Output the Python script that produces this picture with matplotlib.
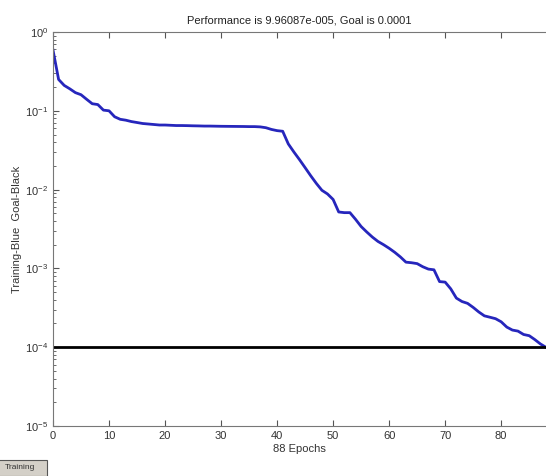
import matplotlib
matplotlib.use('Agg')
import matplotlib.pyplot as plt
from matplotlib.patches import Rectangle

plt.rcParams['font.family'] = ['Liberation Sans', 'DejaVu Sans']

# training performance per epoch
epochs = list(range(89))
perf = [0.59, 0.25, 0.21, 0.19, 0.17, 0.16, 0.14, 0.123, 0.12, 0.102,
        0.1, 0.084, 0.078, 0.076, 0.073, 0.071, 0.069, 0.068, 0.067, 0.066,
        0.066, 0.0655, 0.065, 0.065, 0.0648, 0.0645, 0.0643, 0.064, 0.064, 0.0638,
        0.0636, 0.0635, 0.0634, 0.0633, 0.0632, 0.063, 0.063, 0.0625, 0.061, 0.058,
        0.056, 0.055, 0.038, 0.030, 0.024, 0.019, 0.015, 0.012, 0.0098, 0.0088,
        0.0075, 0.0052, 0.0051, 0.0051, 0.0042, 0.0034, 0.0029, 0.0025, 0.0022, 0.002,
        0.0018, 0.0016, 0.0014, 0.0012, 0.00118, 0.00115, 0.00105, 0.00098, 0.00096, 0.00068,
        0.00067, 0.00055, 0.00042, 0.00038, 0.00036, 0.00032, 0.00028, 0.00025, 0.00024, 0.00023,
        0.00021, 0.00018, 0.000165, 0.00016, 0.000145, 0.00014, 0.000125, 0.00011, 9.96087e-5]
goal = 0.0001
xticks = [0, 10, 20, 30, 40, 50, 60, 70, 80]

fig = plt.figure(figsize=(5.46, 4.76), dpi=100)
ax = fig.add_axes([53 / 546, 1 - 426 / 476, 1 - 53 / 546, (426 - 32) / 476])

ax.semilogy(epochs, perf, color='#2626bc', lw=2)
ax.axhline(goal, color='black', lw=2)

ax.set_xlim(0, 88)
ax.set_ylim(1e-5, 1)
ax.set_xticks(xticks)
ax.tick_params(which='both', direction='in', top=True, right=False, colors='#555555',
               labelcolor='#333333', labelsize=8)
ax.tick_params(which='major', length=4)
ax.tick_params(which='minor', length=2)
for s in ['left', 'bottom', 'top']:
    ax.spines[s].set_color('#777777')
ax.spines['right'].set_visible(False)

ax.set_title('Performance is 9.96087e-005, Goal is 0.0001', fontsize=8, color='#222222', pad=6)
ax.set_xlabel('88 Epochs', fontsize=8, color='#333333', labelpad=2)
ax.set_ylabel('Training-Blue  Goal-Black', fontsize=8, color='#333333', labelpad=2)

# the "Stop Training" button, cut at the left edge of the window
fig.patches.append(Rectangle((-0.05, 0.0), 0.136, 0.034, transform=fig.transFigure,
                             facecolor='#d4d0c8', edgecolor='#555555', lw=0.8))
fig.text(0.008, 0.017, 'Training', ha='left', va='center', fontsize=6, color='#333333')

fig.savefig('out.png', dpi=100)
